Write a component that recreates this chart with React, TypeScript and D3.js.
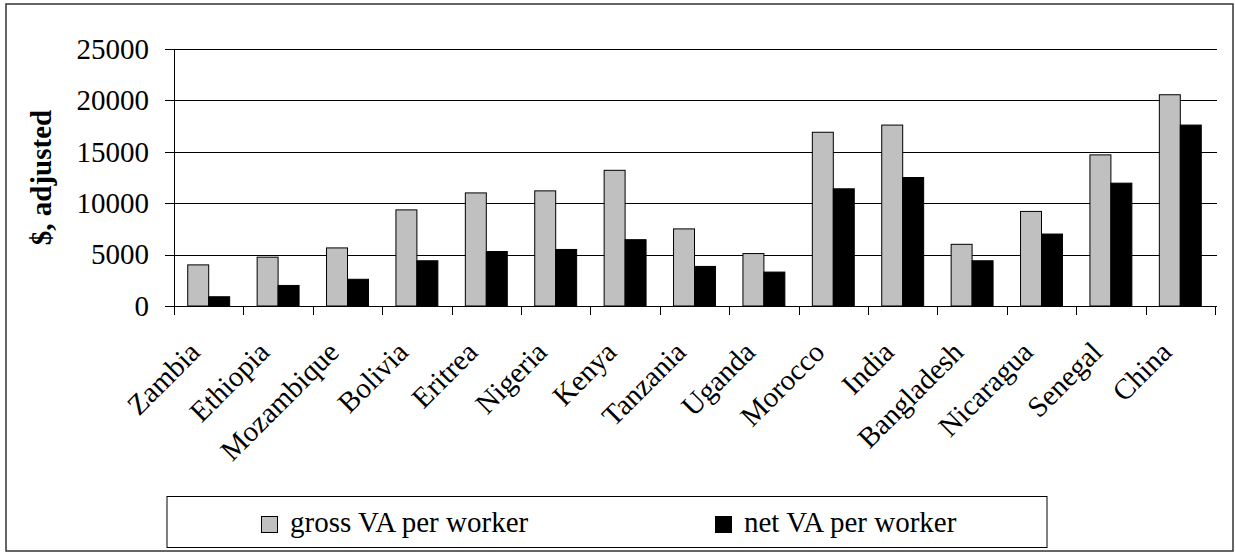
import React from "react";
import * as d3 from "d3";

const categories = ["Zambia", "Ethiopia", "Mozambique", "Bolivia", "Eritrea", "Nigeria", "Kenya", "Tanzania", "Uganda", "Morocco", "India", "Bangladesh", "Nicaragua", "Senegal", "China"];
const grossVA = [4000, 4750, 5650, 9350, 11000, 11200, 13200, 7500, 5100, 16900, 17600, 6000, 9200, 14700, 20550];
const netVA = [900, 2000, 2600, 4400, 5300, 5500, 6450, 3850, 3300, 11400, 12500, 4400, 7000, 11950, 17600];
const yTicks = [0, 5000, 10000, 15000, 20000, 25000];
const seriesNames = ["gross VA per worker", "net VA per worker"];
const seriesColors = ["#C0C0C0", "#000000"];
const yTitle = "$, adjusted";

const W = 1235, H = 553;
const plot = { left: 174, right: 1215, top: 49, bottom: 306 };
const FONT = "Liberation Serif, Times New Roman, Times, serif";
const FS = 29;

export default function App() {
  const x = d3.scaleBand<string>().domain(categories).range([plot.left, plot.right]).paddingInner(0).paddingOuter(0);
  const y = d3.scaleLinear().domain([0, 25000]).range([plot.bottom, plot.top]);
  const gap = 1.31;
  const barW = x.bandwidth() / (2 + gap);
  const groupOff = (x.bandwidth() - 2 * barW) / 2;
  const series = [grossVA, netVA];
  const ts: React.CSSProperties = { fontFamily: FONT, fontSize: FS };

  return (
    <svg width={W} height={H} style={{ position: "absolute", left: 0, top: 0, background: "#fff" }}>
      <rect x={0} y={0} width={W} height={H} fill="#fff" />
      <rect x={6} y={4} width={1227} height={547} fill="none" stroke="#333" strokeWidth={1.5} />
      {yTicks.filter(t => t > 0).map(t => (
        <line key={"g" + t} x1={plot.left} x2={plot.right + 2} y1={Math.round(y(t)) + 0.5} y2={Math.round(y(t)) + 0.5} stroke="#000" strokeWidth={1} />
      ))}
      {categories.map((c, i) => (
        <g key={c}>
          {series.map((s, k) => (
            <rect key={k}
              x={(x(c) as number) + groupOff + k * barW}
              y={y(s[i])}
              width={barW}
              height={y(0) - y(s[i])}
              fill={seriesColors[k]}
              stroke="#000"
              strokeWidth={1}
            />
          ))}
        </g>
      ))}
      <line x1={plot.left + 0.5} x2={plot.left + 0.5} y1={plot.top} y2={plot.bottom + 9} stroke="#000" strokeWidth={1} />
      {yTicks.map(t => (
        <g key={"t" + t}>
          <line x1={plot.left - 9} x2={plot.left} y1={Math.round(y(t)) + 0.5} y2={Math.round(y(t)) + 0.5} stroke="#000" strokeWidth={1} />
          <text x={149} y={y(t)} dy="0.34em" textAnchor="end" style={ts} fill="#000">{t}</text>
        </g>
      ))}
      <line x1={plot.left} x2={plot.right + 2} y1={plot.bottom + 0.5} y2={plot.bottom + 0.5} stroke="#000" strokeWidth={1} />
      {d3.range(categories.length + 1).map(i => {
        const xx = Math.round(plot.left + i * x.step()) + 0.5;
        return <line key={"xt" + i} x1={xx} x2={xx} y1={plot.bottom} y2={plot.bottom + 9} stroke="#000" strokeWidth={1} />;
      })}
      {categories.map(c => {
        const cx = (x(c) as number) + x.bandwidth() / 2 - 7;
        const cy = plot.bottom + 48;
        return (
          <text key={"l" + c} transform={`translate(${cx},${cy}) rotate(-45)`} textAnchor="end" style={ts} fill="#000">{c}</text>
        );
      })}
      <text transform={`translate(51,${(plot.top + plot.bottom) / 2}) rotate(-90)`} textAnchor="middle" style={{ ...ts, fontWeight: "bold" }} fill="#000">{yTitle}</text>
      <rect x={167} y={496.5} width={880} height={51} fill="#fff" stroke="#000" strokeWidth={1} />
      {seriesNames.map((n, k) => {
        const lx = k === 0 ? 261 : 715;
        return (
          <g key={n}>
            <rect x={lx + 0.5} y={516.5} width={16} height={16} fill={seriesColors[k]} stroke="#000" strokeWidth={1} />
            <text x={lx + 29} y={532} style={ts} fill="#000">{n}</text>
          </g>
        );
      })}
    </svg>
  );
}
